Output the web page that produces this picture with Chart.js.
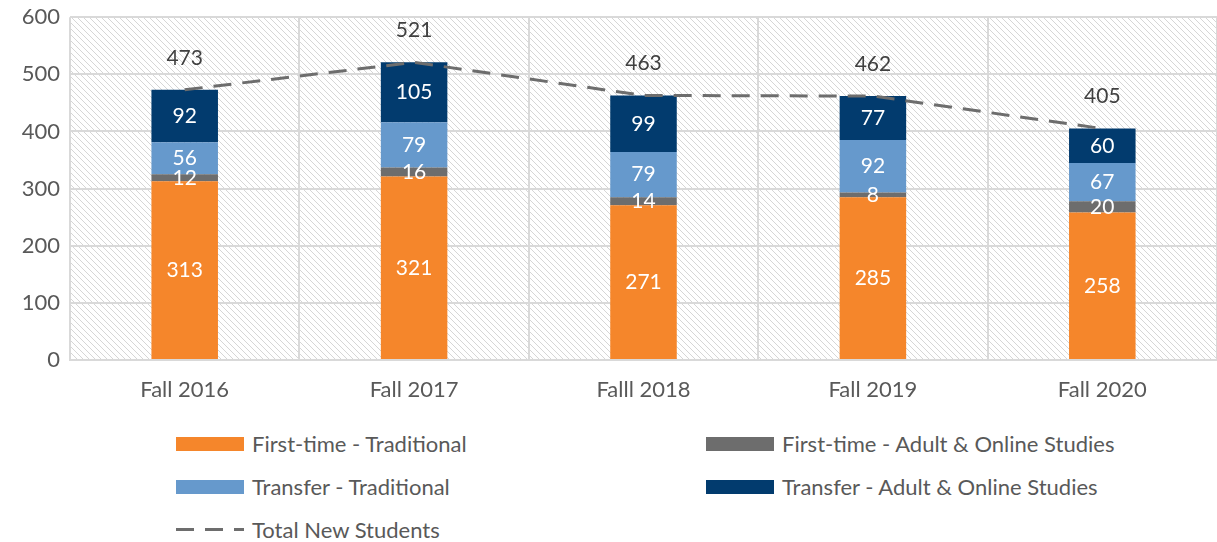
<!DOCTYPE html>
<html>
<head>
<meta charset="utf-8">
<script src="https://cdn.jsdelivr.net/npm/chart.js@4"></script>
<style>
  body { margin: 0; background: #fff; font-family: Lato, sans-serif; overflow: hidden; }
  #wrap { position: relative; width: 1217px; height: 542px; overflow: hidden; }
  #chartBox { position: absolute; left: 0; top: -6px; width: 1217px; height: 412px; }
  .leg { position: absolute; display: flex; align-items: center; font-size: 22px; color: #595959; white-space: nowrap; }
  .leg .sw { width: 68px; height: 14px; margin-right: 8px; }
  .leg .dash { width: 68px; height: 3px; margin-right: 8px;
    background: repeating-linear-gradient(90deg, #6d6d6d 0 18px, transparent 18px 29px); }
</style>
</head>
<body>
<div id="wrap">
  <div id="chartBox"><canvas id="chart"></canvas></div>
  <div class="leg" style="left:176px; top:430px;"><div class="sw" style="background:#F5862B"></div>First-time - Traditional</div>
  <div class="leg" style="left:706px; top:430px;"><div class="sw" style="background:#6D6D6D"></div>First-time - Adult &amp; Online Studies</div>
  <div class="leg" style="left:176px; top:473px;"><div class="sw" style="background:#6699CC"></div>Transfer - Traditional</div>
  <div class="leg" style="left:706px; top:473px;"><div class="sw" style="background:#023B6E"></div>Transfer - Adult &amp; Online Studies</div>
  <div class="leg" style="left:176px; top:516px;"><div class="dash"></div>Total New Students</div>
</div>
<script>
// Data
const terms = ['Fall 2016', 'Fall 2017', 'Falll 2018', 'Fall 2019', 'Fall 2020'];
const firstTimeTrad = [313, 321, 271, 285, 258];
const firstTimeAdult = [12, 16, 14, 8, 20];
const transferTrad = [56, 79, 79, 92, 67];
const transferAdult = [92, 105, 99, 77, 60];
const totalNew = [473, 521, 463, 462, 405];

const ctx = document.getElementById('chart').getContext('2d');

// hatched plot background
const hatch = document.createElement('canvas');
hatch.width = 6;
hatch.height = 6;
const hctx = hatch.getContext('2d');
hctx.strokeStyle = '#d6d6d6';
hctx.lineWidth = 1;
hctx.beginPath();
hctx.moveTo(-1, -1); hctx.lineTo(7, 7);
hctx.moveTo(-1, 5); hctx.lineTo(1, 7);
hctx.moveTo(5, -1); hctx.lineTo(7, 1);
hctx.stroke();

const hatchPlugin = {
    id: 'hatchBg',
    beforeDraw(chart) {
        const a = chart.chartArea;
        const c = chart.ctx;
        c.save();
        c.fillStyle = c.createPattern(hatch, 'repeat');
        c.fillRect(a.left, a.top, a.right - a.left, a.bottom - a.top);
        c.restore();
    }
};

// value labels inside bars and above line
const labelPlugin = {
    id: 'valueLabels',
    afterDatasetsDraw(chart) {
        const c = chart.ctx;
        c.save();
        c.font = '21px Lato';
        c.textAlign = 'center';
        c.textBaseline = 'middle';
        chart.data.datasets.forEach((ds, i) => {
            const meta = chart.getDatasetMeta(i);
            meta.data.forEach((el, j) => {
                if (ds.type === 'line') {
                    c.fillStyle = '#404040';
                    c.fillText(ds.data[j], el.x, el.y - 32);
                } else {
                    c.fillStyle = '#ffffff';
                    c.fillText(ds.data[j], el.x, (el.y + el.base) / 2);
                }
            });
        });
        c.restore();
    }
};

Chart.defaults.font.family = 'Lato, sans-serif';
Chart.defaults.font.size = 22;
Chart.defaults.color = '#595959';

const barOpts = { stack: 'bars', order: 1, barPercentage: 0.29, categoryPercentage: 1 };

new Chart(ctx, {
    type: 'bar',
    data: {
        labels: terms,
        datasets: [
            { label: 'Total New Students', type: 'line', data: totalNew, stack: 'total', order: 0,
              borderColor: '#6d6d6d', borderWidth: 3, borderDash: [18, 11], pointRadius: 0, fill: false, tension: 0 },
            { label: 'First-time - Traditional', data: firstTimeTrad, backgroundColor: '#F5862B', ...barOpts },
            { label: 'First-time - Adult & Online Studies', data: firstTimeAdult, backgroundColor: '#6D6D6D', ...barOpts },
            { label: 'Transfer - Traditional', data: transferTrad, backgroundColor: '#6699CC', ...barOpts },
            { label: 'Transfer - Adult & Online Studies', data: transferAdult, backgroundColor: '#023B6E', ...barOpts }
        ]
    },
    options: {
        responsive: true,
        maintainAspectRatio: false,
        animation: false,
        layout: { padding: { top: 3, right: 0, left: 0, bottom: 0 } },
        scales: {
            x: {
                stacked: true,
                grid: { color: '#d9d9d9', lineWidth: 2, drawTicks: false, offset: true },
                border: { color: '#d9d9d9', width: 2 },
                ticks: { padding: 17 },
                afterFit(scale) { scale.height = 46; }
            },
            y: {
                stacked: true,
                min: 0,
                max: 600,
                ticks: { stepSize: 100, padding: 10 },
                grid: { color: '#d9d9d9', lineWidth: 2, drawTicks: false },
                border: { display: false },
                afterFit(scale) { scale.width = 70; }
            }
        },
        plugins: {
            legend: { display: false },
            tooltip: { enabled: false }
        }
    },
    plugins: [hatchPlugin, labelPlugin]
});
</script>
</body>
</html>
